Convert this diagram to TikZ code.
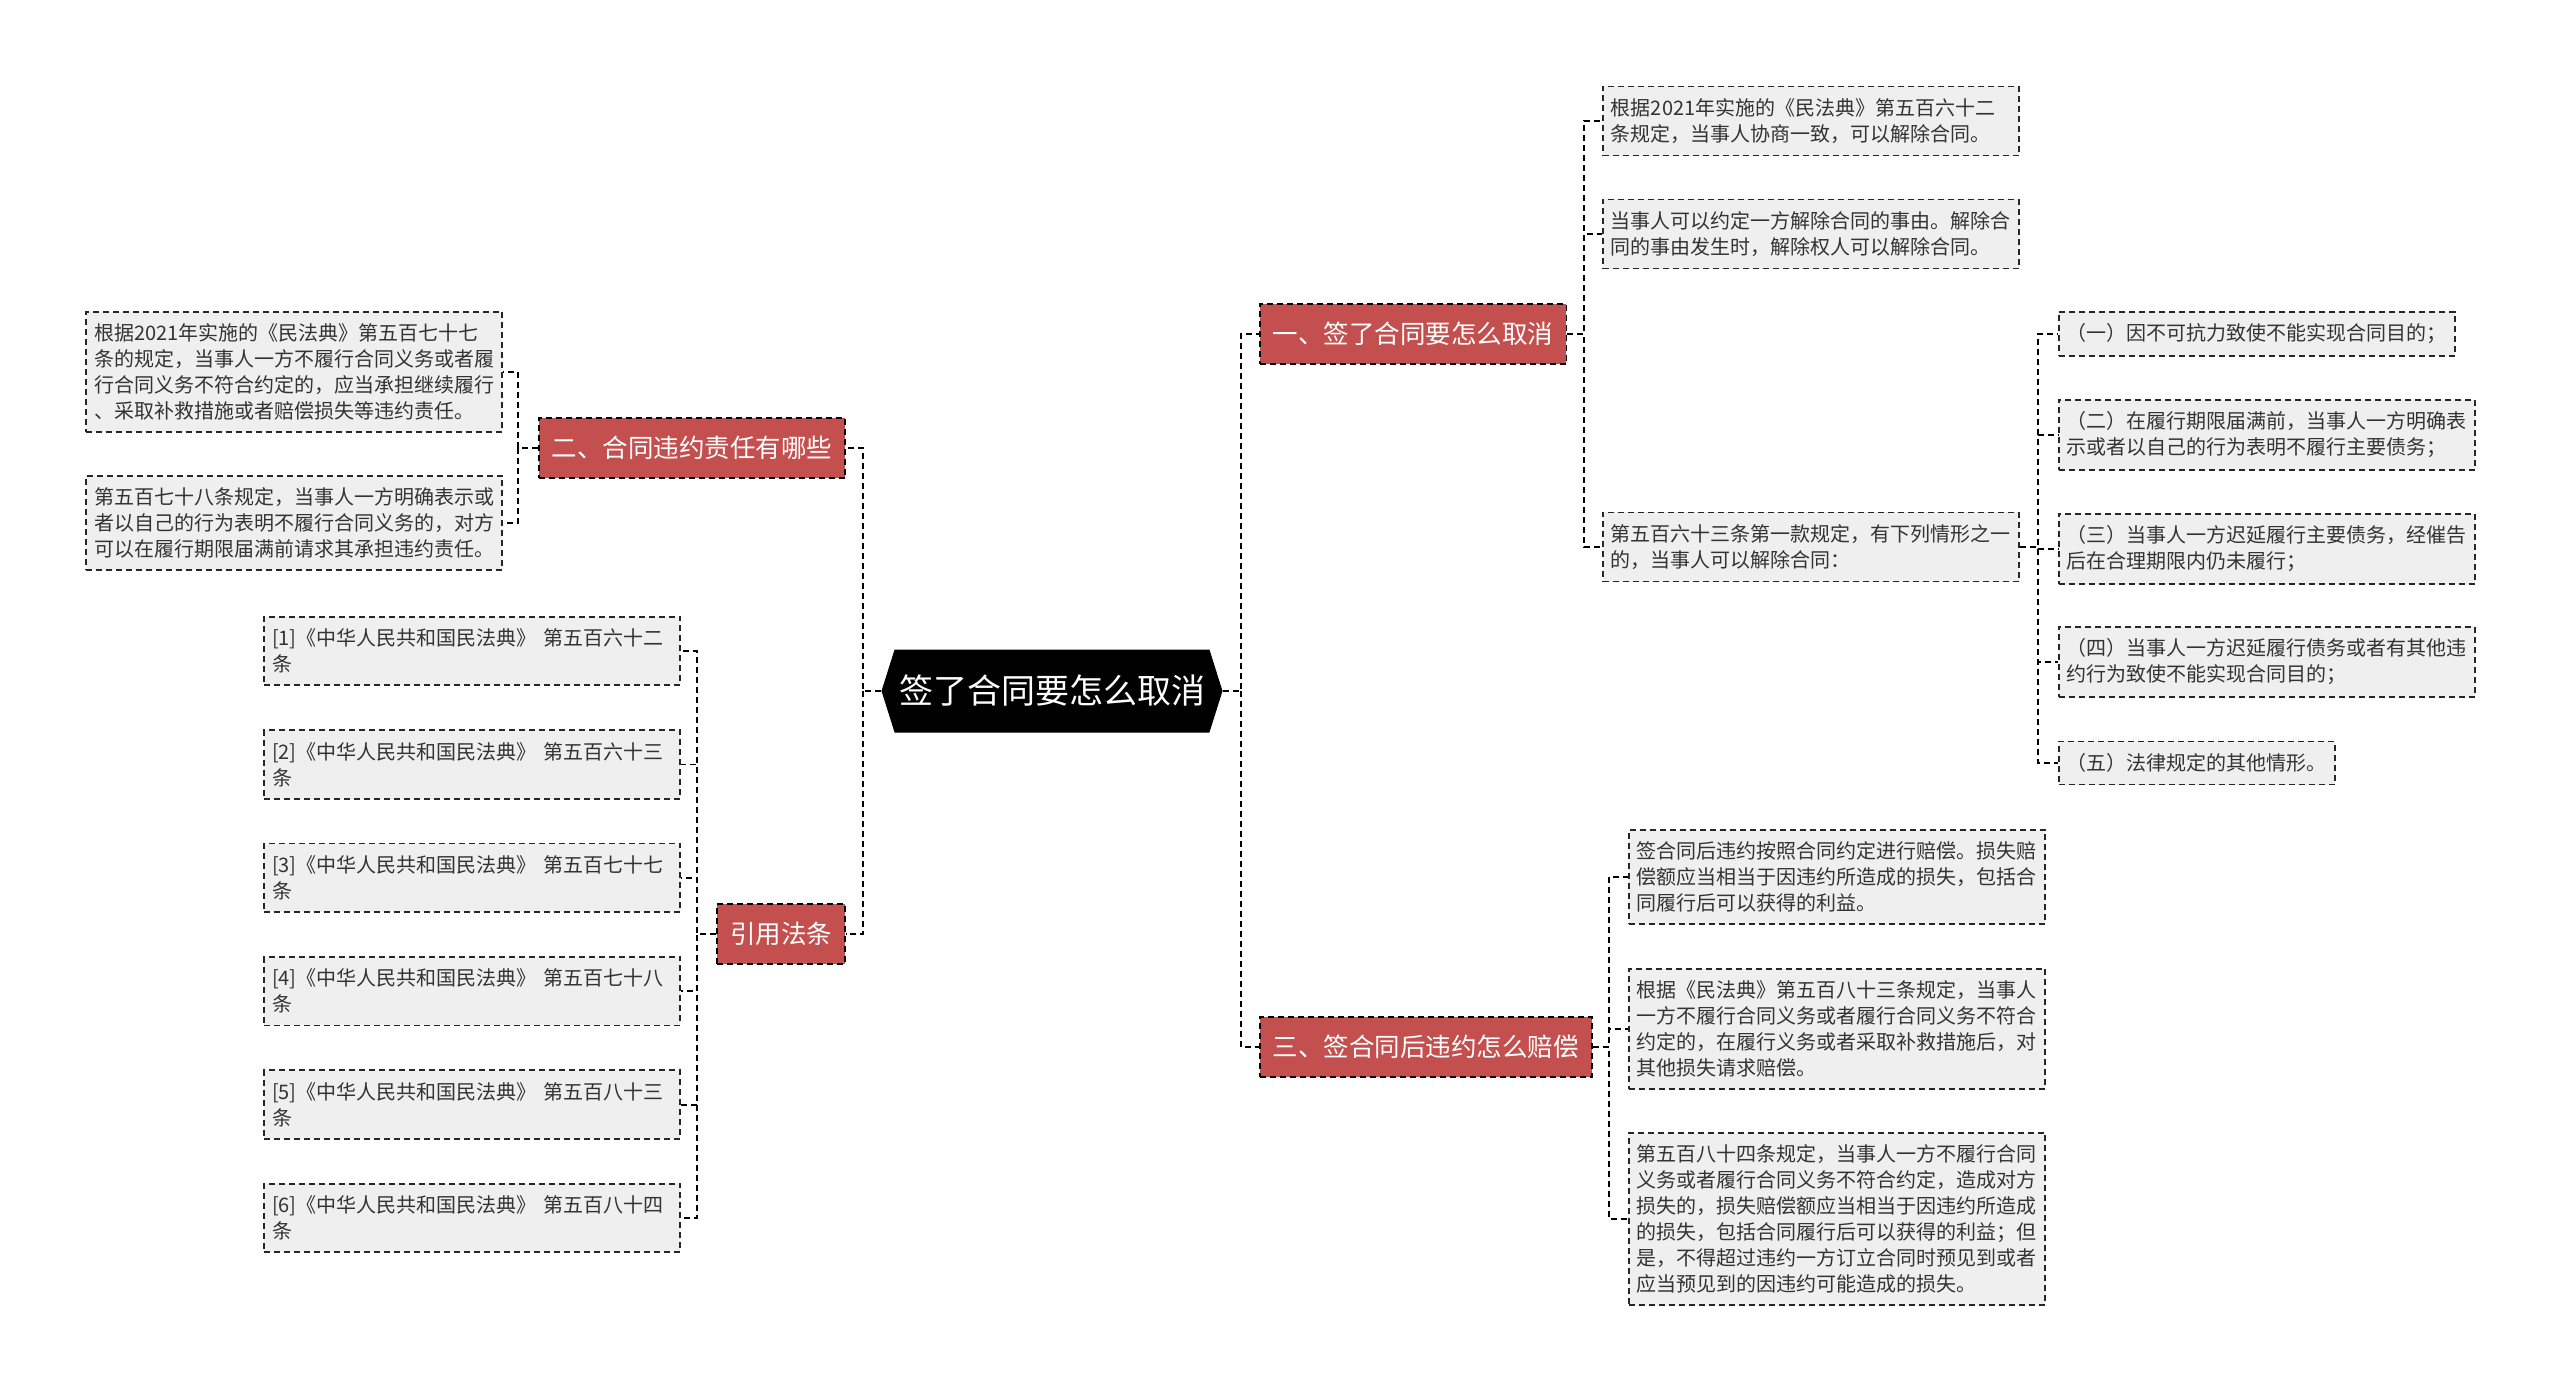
\documentclass[tikz,border=0pt]{standalone}
\usepackage{fontspec}
\setmainfont{Noto Sans CJK SC}
\usetikzlibrary{shapes.symbols}

\definecolor{colRama}{RGB}{195,80,78}
\definecolor{colHoja}{RGB}{239,239,239}
\definecolor{colTexto}{RGB}{51,51,51}

\tikzset{
  link/.style={line width=1.8pt, dash pattern=on 6pt off 4pt},
  raiz/.style={signal, signal to=west and east, signal pointer angle=145,
    fill=black, text=white, minimum width=341pt, minimum height=83pt,
    inner sep=0pt, font=\fontsize{34}{40}\selectfont},
  rama/.style={draw=black, link, fill=colRama, text=white, minimum height=60pt,
    inner xsep=13pt, font=\fontsize{25.5}{30}\selectfont},
  hoja/.style={draw=black!85, link, fill=colHoja, text=colTexto, align=left,
    inner xsep=8pt, inner ysep=12pt, font=\fontsize{20}{26}\selectfont},
  hojaw/.style={hoja, text width=400pt},
}

\begin{document}
\begin{tikzpicture}[x=1pt,y=-1pt]
  \useasboundingbox (0,0) rectangle (2560,1391);

  % Nodo central
  \node[raiz] (c) at (1052,691) {签了合同要怎么取消};

  % Ramas principales
  \node[rama,anchor=west] (r1) at (1259,334) {一、签了合同要怎么取消};
  \node[rama,anchor=east] (r2) at (846,448) {二、合同违约责任有哪些};
  \node[rama,anchor=east] (r4) at (846,934) {引用法条};
  \node[rama,anchor=west] (r3) at (1259,1047) {三、签合同后违约怎么赔偿};

  \draw[link] (c.east) -- ++(18,0) coordinate (tr) |- (r1.west);
  \draw[link] (tr) |- (r3.west);
  \draw[link] (c.west) -- ++(-18,0) coordinate (tl) |- (r2.east);
  \draw[link] (tl) |- (r4.east);

  % Rama 1
  \node[hojaw,anchor=west] (a1) at (1602,121) {根据2021年实施的《民法典》第五百六十二\\条规定，当事人协商一致，可以解除合同。};
  \node[hojaw,anchor=west] (a2) at (1602,234) {当事人可以约定一方解除合同的事由。解除合\\同的事由发生时，解除权人可以解除合同。};
  \node[hojaw,anchor=west] (a3) at (1602,547) {第五百六十三条第一款规定，有下列情形之一\\的，当事人可以解除合同：};
  \foreach \n in {a1,a2,a3}
    \draw[link] (r1.east) -- ++(17,0) |- (\n.west);

  % Casos
  \node[hoja,anchor=west] (s1) at (2058,334) {（一）因不可抗力致使不能实现合同目的；};
  \node[hoja,anchor=west] (s2) at (2058,435) {（二）在履行期限届满前，当事人一方明确表\\示或者以自己的行为表明不履行主要债务；};
  \node[hoja,anchor=west] (s3) at (2058,549) {（三）当事人一方迟延履行主要债务，经催告\\后在合理期限内仍未履行；};
  \node[hoja,anchor=west] (s4) at (2058,662) {（四）当事人一方迟延履行债务或者有其他违\\约行为致使不能实现合同目的；};
  \node[hoja,anchor=west] (s5) at (2058,763) {（五）法律规定的其他情形。};
  \foreach \i in {1,...,5}
    \draw[link] (a3.east) -- ++(18,0) |- (s\i.west);

  % Rama 3
  \node[hojaw,anchor=west] (b1) at (1628,877) {签合同后违约按照合同约定进行赔偿。损失赔\\偿额应当相当于因违约所造成的损失，包括合\\同履行后可以获得的利益。};
  \node[hojaw,anchor=west] (b2) at (1628,1029) {根据《民法典》第五百八十三条规定，当事人\\一方不履行合同义务或者履行合同义务不符合\\约定的，在履行义务或者采取补救措施后，对\\其他损失请求赔偿。};
  \node[hojaw,anchor=west] (b3) at (1628,1219) {第五百八十四条规定，当事人一方不履行合同\\义务或者履行合同义务不符合约定，造成对方\\损失的，损失赔偿额应当相当于因违约所造成\\的损失，包括合同履行后可以获得的利益；但\\是，不得超过违约一方订立合同时预见到或者\\应当预见到的因违约可能造成的损失。};
  \foreach \n in {b1,b2,b3}
    \draw[link] (r3.east) -- ++(16,0) |- (\n.west);

  % Rama 2
  \node[hojaw,anchor=east] (l1) at (503,372) {根据2021年实施的《民法典》第五百七十七\\条的规定，当事人一方不履行合同义务或者履\\行合同义务不符合约定的，应当承担继续履行\\、采取补救措施或者赔偿损失等违约责任。};
  \node[hojaw,anchor=east] (l2) at (503,523) {第五百七十八条规定，当事人一方明确表示或\\者以自己的行为表明不履行合同义务的，对方\\可以在履行期限届满前请求其承担违约责任。};
  \foreach \n in {l1,l2}
    \draw[link] (r2.west) -- ++(-20,0) |- (\n.east);

  % Citas
  \foreach \i/\t in {1/六十二,2/六十三,3/七十七,4/七十八,5/八十三,6/八十四}{
    \node[hojaw,anchor=east] (f\i) at (681,{651+(\i-1)*113.4}) {[\i]《中华人民共和国民法典》 第五百\t\\条};
    \draw[link] (r4.west) -- ++(-19,0) |- (f\i.east);
  }
\end{tikzpicture}
\end{document}
